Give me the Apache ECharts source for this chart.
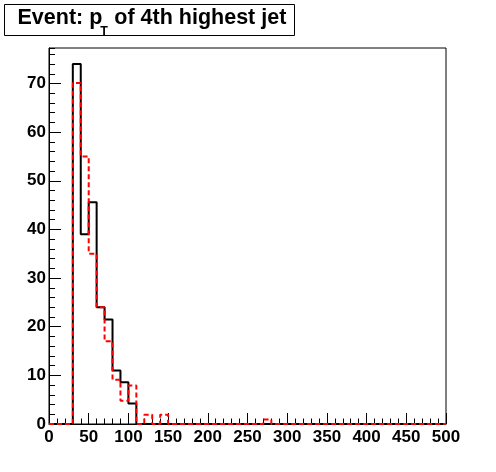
<!DOCTYPE html>
<html><head><meta charset="utf-8">
<script src="https://cdn.jsdelivr.net/npm/echarts@6/dist/echarts.min.js"></script>
<style>html,body{margin:0;padding:0;background:#fff}#c{width:496px;height:472px}</style>
</head><body><div id="c"></div>
<script>
// Bin low edges (GeV), bin width 10, last entry is the upper edge of the last bin
const binEdges = [0,10,20,30,40,50,60,70,80,90,100,110,120,130,140,150,160,170,180,190,
  200,210,220,230,240,250,260,270,280,290,300,310,320,330,340,350,360,370,380,390,
  400,410,420,430,440,450,460,470,480,490,500];
// Black solid histogram (one value per bin)
const blackCounts = [0,0,0,74,39,45.6,24,21.5,11,8.6,4.2,0,0,0,0,0,0,0,0,0,
  0,0,0,0,0,0,0,0,0,0,0,0,0,0,0,0,0,0,0,0,
  0,0,0,0,0,0,0,0,0,0];
// Red dashed histogram
const redCounts = [0,0,0,70.1,55,35,24,17,9.1,4.8,7.9,0,1.9,0,1.9,0,0,0,0,0,
  0,0,0,0,0,0,0,0.9,0,0,0,0,0,0,0,0,0,0,0,0,
  0,0,0,0,0,0,0,0,0,0];
const xTickLabels = [0,50,100,150,200,250,300,350,400,450,500];
const yTickLabels = [0,10,20,30,40,50,60,70];
const titleMain = 'Event: p';
const titleSub = 'T';
const titleRest = 'of 4th highest jet';

function stepData(counts){
  const d = counts.map((v,i)=>[binEdges[i], v]);
  d.push([binEdges[binEdges.length-1], counts[counts.length-1]]);
  return d;
}

const FONT = '"Liberation Sans", Arial, Helvetica, sans-serif';
const titleSize = 21.5, subSize = 12.5;
const cv = document.createElement('canvas').getContext('2d');
cv.font = 'bold ' + titleSize + 'px ' + FONT;
const wMain = cv.measureText(titleMain).width;
const tx0 = 17.5;

const yMax = 77.3;
const chart = echarts.init(document.getElementById('c'), null, {renderer:'canvas'});
chart.setOption({
  animation:false,
  backgroundColor:'#fff',
  grid:{left:49, right:50, top:48, bottom:48, show:true, borderColor:'#000', borderWidth:1, backgroundColor:'transparent'},
  xAxis:[{
    type:'value', min:0, max:500, interval:50,
    axisLine:{show:true, lineStyle:{color:'#000', width:1}},
    axisTick:{show:true, inside:true, length:11, lineStyle:{color:'#000', width:1}},
    axisLabel:{show:true, margin:5, color:'#000', fontSize:17, fontWeight:'bold', fontFamily:FONT,
      formatter:v=> xTickLabels.includes(v) ? String(v) : ''},
    splitLine:{show:false}
  },{
    type:'value', min:0, max:500, interval:10, position:'bottom',
    axisLine:{show:false},
    axisTick:{show:true, inside:true, length:5.5, lineStyle:{color:'#000', width:1}},
    axisLabel:{show:false}, splitLine:{show:false}
  }],
  yAxis:[{
    type:'value', min:0, max:yMax, interval:10,
    axisLine:{show:true, lineStyle:{color:'#000', width:1}},
    axisTick:{show:true, inside:true, length:12, lineStyle:{color:'#000', width:1}},
    axisLabel:{show:true, margin:3, color:'#000', fontSize:17, fontWeight:'bold', fontFamily:FONT,
      showMaxLabel:false, formatter:v=> yTickLabels.includes(v) ? String(v) : ''},
    splitLine:{show:false}
  },{
    type:'value', min:0, max:yMax, interval:2, position:'left',
    axisLine:{show:false},
    axisTick:{show:true, inside:true, length:6, lineStyle:{color:'#000', width:1}},
    axisLabel:{show:false}, splitLine:{show:false}
  }],
  series:[{
    type:'line', step:'end', data:stepData(blackCounts), showSymbol:false, symbol:'none',
    xAxisIndex:0, yAxisIndex:0, clip:false,
    lineStyle:{color:'#000', width:2}, z:2
  },{
    type:'line', step:'end', data:stepData(redCounts), showSymbol:false, symbol:'none',
    xAxisIndex:0, yAxisIndex:0, clip:false,
    lineStyle:{color:'#ff0000', width:2, type:[5,3]}, z:3
  }],
  graphic:[
    {type:'rect', shape:{x:4.5, y:4.5, width:290, height:31}, style:{fill:'#fff', stroke:'#000', lineWidth:1}, z:10},
    {type:'text', x:tx0, y:18, style:{text:titleMain, font:'bold '+titleSize+'px '+FONT, fill:'#000', verticalAlign:'middle', align:'left'}, z:11},
    {type:'text', x:tx0+wMain-2, y:31.5, style:{text:titleSub, font:'bold '+subSize+'px '+FONT, fill:'#000', verticalAlign:'middle', align:'left'}, z:11},
    {type:'text', x:tx0+wMain+12, y:18, style:{text:titleRest, font:'bold '+titleSize+'px '+FONT, fill:'#000', verticalAlign:'middle', align:'left'}, z:11}
  ]
});
</script></body></html>
